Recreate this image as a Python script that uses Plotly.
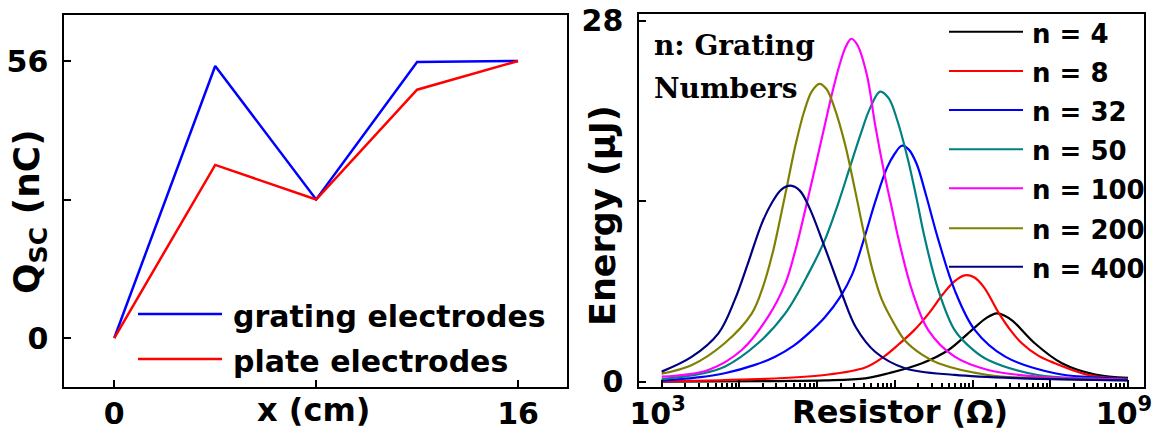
import numpy as np
import plotly.graph_objects as go

W, H = 1153, 442

# ---------------- Left panel data ----------------
x_cm = [0, 4, 8, 12, 16]
q_grating = [0, 55.0, 28.0, 55.8, 56.0]
q_plate = [0, 35.0, 28.0, 50.2, 56.0]

# ---------------- Right panel data (log10 of resistance in ohm, energy in uJ) ----------------
logR_400 = [3.0, 3.39, 3.73, 3.94, 4.11, 4.29, 4.42, 4.54, 4.66, 4.78, 4.90, 5.10, 5.32, 5.50, 5.75, 6.13, 6.77, 7.63, 9.0]
E_400 = [0.78, 1.94, 3.75, 6.34, 9.18, 12.3, 13.9, 14.9, 15.2, 14.8, 13.5, 10.4, 6.8, 4.2, 2.3, 1.04, 0.52, 0.26, 0.1]

logR_200 = [3.0, 3.39, 3.81, 4.16, 4.30, 4.42, 4.52, 4.62, 4.72, 4.83, 4.93, 5.03, 5.12, 5.22, 5.36, 5.49, 5.60, 5.72, 5.83, 6.0, 6.13, 6.35, 6.56, 7.20, 7.87, 9.0]
E_200 = [0.62, 1.3, 2.98, 5.3, 7.3, 9.8, 12.5, 15.4, 18.3, 20.9, 22.5, 23.1, 22.7, 21.3, 18.4, 14.8, 11.6, 8.5, 6.4, 4.4, 3.2, 2.1, 1.43, 0.52, 0.26, 0.1]

logR_100 = [3.0, 3.60, 4.03, 4.37, 4.59, 4.72, 4.85, 4.97, 5.08, 5.19, 5.29, 5.37, 5.44, 5.52, 5.64, 5.75, 5.87, 5.96, 6.05, 6.22, 6.43, 6.77, 7.20, 7.84, 9.0]
E_100 = [0.39, 0.91, 2.46, 5.04, 7.6, 10.2, 13.4, 16.5, 19.4, 22.3, 24.6, 26.0, 26.6, 26.1, 23.8, 19.8, 16.0, 13.5, 11.0, 7.1, 4.0, 1.94, 0.91, 0.39, 0.15]

logR_50 = [3.0, 3.5, 3.81, 4.24, 4.59, 4.89, 5.10, 5.27, 5.42, 5.56, 5.68, 5.81, 5.92, 6.03, 6.17, 6.28, 6.39, 6.56, 6.77, 7.0, 7.20, 7.84, 8.5, 9.0]
E_50 = [0.2, 0.6, 1.16, 2.98, 5.3, 8.4, 11.0, 13.8, 16.6, 19.2, 21.2, 22.5, 22.0, 20.3, 17.2, 14.2, 11.0, 7.1, 4.0, 2.5, 1.68, 0.52, 0.25, 0.15]

logR_32 = [3.0, 3.5, 3.81, 4.2, 4.46, 4.7, 4.89, 5.1, 5.3, 5.45, 5.6, 5.75, 5.9, 6.0, 6.09, 6.18, 6.28, 6.40, 6.56, 6.77, 7.03, 7.42, 8.06, 8.5, 9.0]
E_32 = [0.08, 0.35, 0.65, 1.3, 1.94, 2.8, 3.75, 5.0, 6.6, 8.3, 11.0, 14.0, 16.6, 17.7, 18.3, 18.0, 16.9, 14.5, 11.0, 7.1, 4.0, 1.94, 0.65, 0.35, 0.2]

logR_8 = [3.0, 4.24, 5.10, 5.62, 5.85, 6.05, 6.25, 6.45, 6.62, 6.77, 6.90, 7.02, 7.15, 7.33, 7.50, 7.63, 7.85, 8.06, 8.49, 9.0]
E_8 = [0.03, 0.19, 0.52, 1.1, 1.9, 2.9, 4.0, 5.4, 6.8, 7.8, 8.25, 8.1, 7.3, 5.4, 3.9, 3.0, 2.0, 1.43, 0.52, 0.22]

logR_4 = [3.0, 4.5, 5.10, 5.62, 5.92, 6.35, 6.69, 6.99, 7.18, 7.31, 7.42, 7.52, 7.80, 8.15, 8.58, 9.0]
E_4 = [0.0, 0.05, 0.1, 0.26, 0.65, 1.43, 2.46, 4.0, 4.95, 5.3, 5.1, 4.7, 2.98, 1.43, 0.55, 0.3]

series_names = ["n = 4", "n = 8", "n = 32", "n = 50", "n = 100", "n = 200", "n = 400"]
series_logR = [logR_4, logR_8, logR_32, logR_50, logR_100, logR_200, logR_400]
series_E = [E_4, E_8, E_32, E_50, E_100, E_200, E_400]
series_colors = ["#000000", "#ff0000", "#0000ff", "#008080", "#ff00ff", "#808000", "#000080"]

left_names = ["grating electrodes", "plate electrodes"]
left_colors = ["#0000ff", "#ff0000"]

SANS = "DejaVu Sans"
SERIF = "DejaVu Serif"


def px(x):
    return x / W


def py(y):
    return 1 - y / H


fig = go.Figure()

fig.add_trace(go.Scatter(x=x_cm, y=q_grating, mode="lines", line=dict(color=left_colors[0], width=2.5),
                         xaxis="x", yaxis="y", showlegend=False))
fig.add_trace(go.Scatter(x=x_cm, y=q_plate, mode="lines", line=dict(color=left_colors[1], width=2.5),
                         xaxis="x", yaxis="y", showlegend=False))

for name, lr, e, c in zip(series_names, series_logR, series_E, series_colors):
    fig.add_trace(go.Scatter(x=np.power(10.0, lr), y=e, mode="lines", name=name,
                             line=dict(color=c, width=2.2, shape="spline", smoothing=1.0),
                             xaxis="x2", yaxis="y2", showlegend=False))

tickfont = dict(family=SANS, size=30, color="black", weight="bold")
axis_common = dict(showline=True, linewidth=2, linecolor="black", mirror=True, showgrid=False,
                   zeroline=False, ticks="inside", ticklen=7, tickwidth=2, tickcolor="black",
                   automargin=False, ticklabeloverflow="allow")

minor_vals = [m * 10.0 ** k for k in range(3, 9) for m in range(2, 10)]

fig.update_layout(
    width=W, height=H,
    margin=dict(l=0, r=0, t=0, b=0, autoexpand=False),
    paper_bgcolor="white", plot_bgcolor="white",
    xaxis=dict(domain=[px(64.3), px(567)], range=[-1.98, 17.94], tickmode="array",
               tickvals=[0, 8, 16], ticktext=["0", "", "16"], anchor="y",
               ticklabelstandoff=-1, tickfont=tickfont, **axis_common),
    yaxis=dict(domain=[py(387.3), py(15)], range=[-9.96, 65.3], tickmode="array",
               tickvals=[0, 28, 56], ticktext=["0", "", "56"], anchor="x",
               ticklabelstandoff=8, tickfont=tickfont, **axis_common),
    xaxis2=dict(domain=[px(639.3), px(1144)], type="log", range=[2.712, 9.206], tickmode="array",
                tickvals=[1e3, 1e4, 1e5, 1e6, 1e7, 1e8, 1e9],
                ticktext=["10<sup>3</sup>", "", "", "", "", "", "10<sup>9</sup>"], anchor="y2",
                ticklabelstandoff=-1, ticklabelshift=-4,
                minor=dict(tickmode="array", tickvals=minor_vals, ticks="inside", ticklen=4,
                           tickwidth=1.5, tickcolor="black", showgrid=False),
                tickfont=dict(family=SANS, size=30, color="black", weight="bold"), **axis_common),
    yaxis2=dict(domain=[py(386.7), py(14)], range=[-0.39, 28.52], tickmode="array",
                tickvals=[0, 14, 28], ticktext=["0", "", "28"], anchor="x2",
                ticklabelstandoff=8, tickfont=tickfont, **axis_common),
)

annotations = []
shapes = []

annotations.append(dict(text="x (cm)", x=px(313), y=py(410), xref="paper", yref="paper",
                        showarrow=False, font=dict(family=SANS, size=32, color="black", weight="bold"),
                        xanchor="center", yanchor="middle"))
annotations.append(dict(text="Resistor (Ω)", x=px(900), y=py(412), xref="paper", yref="paper",
                        showarrow=False, font=dict(family=SANS, size=32, color="black", weight="bold"),
                        xanchor="center", yanchor="middle"))
annotations.append(dict(text="Q<sub>SC</sub> (nC)", x=px(29), y=py(212), xref="paper", yref="paper",
                        showarrow=False, textangle=-90,
                        font=dict(family=SANS, size=36, color="black", weight="bold"),
                        xanchor="center", yanchor="middle"))
annotations.append(dict(text="Energy (μJ)", x=px(603), y=py(216), xref="paper", yref="paper",
                        showarrow=False, textangle=-90,
                        font=dict(family=SANS, size=35, color="black", weight="bold"),
                        xanchor="center", yanchor="middle"))

annotations.append(dict(text="n: Grating", x=px(652), y=py(46), xref="paper", yref="paper",
                        showarrow=False, font=dict(family=SERIF, size=28, color="black", weight="bold"),
                        xanchor="left", yanchor="middle"))
annotations.append(dict(text="Numbers", x=px(652), y=py(89), xref="paper", yref="paper",
                        showarrow=False, font=dict(family=SERIF, size=28, color="black", weight="bold"),
                        xanchor="left", yanchor="middle"))

for i, (nm, c) in enumerate(zip(left_names, left_colors)):
    yy = [314, 359][i]
    shapes.append(dict(type="line", xref="paper", yref="paper", x0=px(138), x1=px(222),
                       y0=py(yy), y1=py(yy), line=dict(color=c, width=2.5)))
    annotations.append(dict(text=nm, x=px(231), y=py(yy + 2), xref="paper", yref="paper",
                            showarrow=False, font=dict(family=SANS, size=30, color="black", weight="bold"),
                            xanchor="left", yanchor="middle"))

legend_rows = [31.7, 71, 110, 149.3, 188.3, 228.3, 266.7]
for nm, c, yy in zip(series_names, series_colors, legend_rows):
    shapes.append(dict(type="line", xref="paper", yref="paper", x0=px(949), x1=px(1023),
                       y0=py(yy), y1=py(yy), line=dict(color=c, width=2)))
    annotations.append(dict(text=nm, x=px(1030), y=py(yy + 2), xref="paper", yref="paper",
                            showarrow=False, font=dict(family=SANS, size=26, color="black", weight="bold"),
                            xanchor="left", yanchor="middle"))

fig.update_layout(annotations=annotations, shapes=shapes)

fig.write_html("out.html")
